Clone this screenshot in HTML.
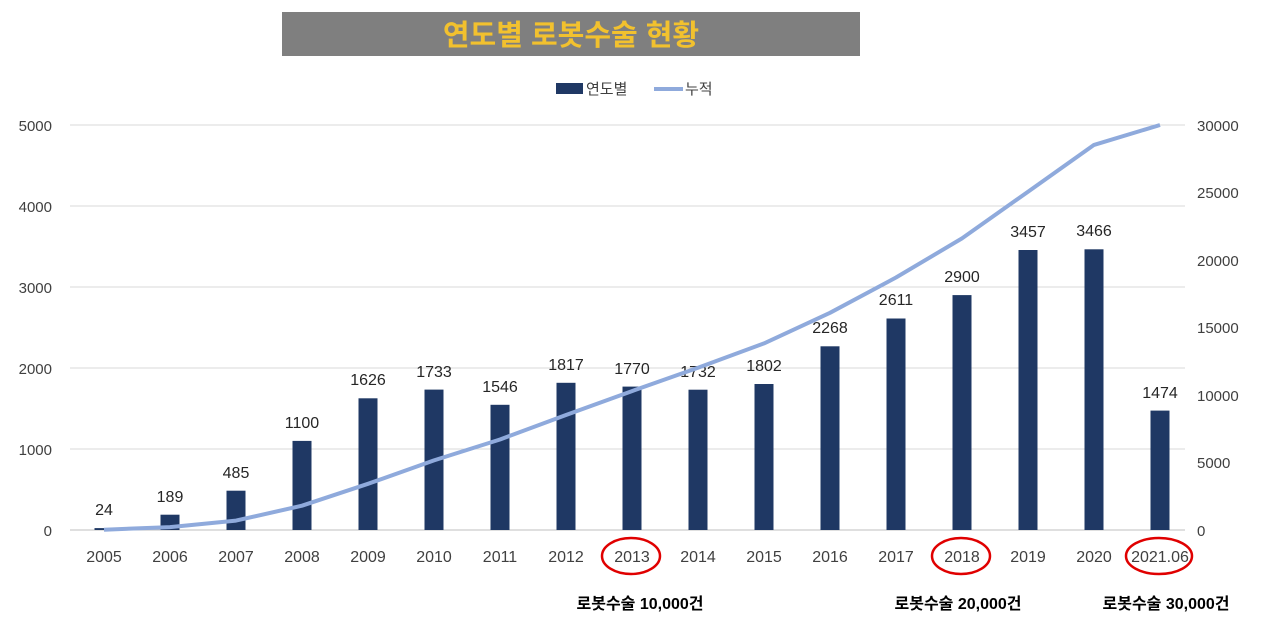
<!DOCTYPE html>
<html><head><meta charset="utf-8"><style>
body{margin:0;background:#fff;}
svg text{font-family:"Liberation Sans","Noto Sans CJK KR",sans-serif;}
</style></head><body>
<svg width="1280" height="625" xmlns="http://www.w3.org/2000/svg">
<rect x="282" y="12" width="578" height="44" fill="#7f7f7f"/>
<text x="571" y="45" text-anchor="middle" font-size="29" font-weight="bold" fill="#f2c12e">연도별 로봇수술 현황</text>
<rect x="556" y="83" width="27" height="11" fill="#1f3864"/>
<text x="586" y="94" font-size="15" fill="#404040">연도별</text>
<line x1="654" y1="89" x2="683" y2="89" stroke="#8faadc" stroke-width="4"/>
<text x="685" y="94" font-size="15" fill="#404040">누적</text>
<g stroke="#d9d9d9" stroke-width="1">
<line x1="70" y1="125" x2="1185" y2="125"/><line x1="70" y1="206" x2="1185" y2="206"/>
<line x1="70" y1="287" x2="1185" y2="287"/><line x1="70" y1="368" x2="1185" y2="368"/>
<line x1="70" y1="449" x2="1185" y2="449"/><line x1="70" y1="530" x2="1185" y2="530" stroke="#bfbfbf"/>
</g>
<g font-size="15" fill="#404040" text-anchor="end">
<text x="52" y="131">5000</text><text x="52" y="212">4000</text><text x="52" y="293">3000</text>
<text x="52" y="374">2000</text><text x="52" y="455">1000</text><text x="52" y="536">0</text>
</g>
<g font-size="15" fill="#404040" text-anchor="start">
<text x="1197" y="131">30000</text><text x="1197" y="198">25000</text><text x="1197" y="266">20000</text>
<text x="1197" y="333">15000</text><text x="1197" y="401">10000</text><text x="1197" y="468">5000</text><text x="1197" y="536">0</text>
</g>
<g fill="#1f3864">
<rect x="94.5" y="528.1" width="19" height="1.9"/>
<rect x="160.5" y="514.7" width="19" height="15.3"/>
<rect x="226.5" y="490.7" width="19" height="39.3"/>
<rect x="292.5" y="440.9" width="19" height="89.1"/>
<rect x="358.5" y="398.3" width="19" height="131.7"/>
<rect x="424.5" y="389.6" width="19" height="140.4"/>
<rect x="490.5" y="404.8" width="19" height="125.2"/>
<rect x="556.5" y="382.8" width="19" height="147.2"/>
<rect x="622.5" y="386.6" width="19" height="143.4"/>
<rect x="688.5" y="389.7" width="19" height="140.3"/>
<rect x="754.5" y="384.0" width="19" height="146.0"/>
<rect x="820.5" y="346.3" width="19" height="183.7"/>
<rect x="886.5" y="318.5" width="19" height="211.5"/>
<rect x="952.5" y="295.1" width="19" height="234.9"/>
<rect x="1018.5" y="250.0" width="19" height="280.0"/>
<rect x="1084.5" y="249.3" width="19" height="280.7"/>
<rect x="1150.5" y="410.6" width="19" height="119.4"/>
</g>
<g font-size="16" fill="#262626" text-anchor="middle">
<text x="104" y="515">24</text>
<text x="170" y="502">189</text>
<text x="236" y="478">485</text>
<text x="302" y="428">1100</text>
<text x="368" y="385">1626</text>
<text x="434" y="377">1733</text>
<text x="500" y="392">1546</text>
<text x="566" y="370">1817</text>
<text x="632" y="374">1770</text>
<text x="698" y="377">1732</text>
<text x="764" y="371">1802</text>
<text x="830" y="333">2268</text>
<text x="896" y="305">2611</text>
<text x="962" y="282">2900</text>
<text x="1028" y="237">3457</text>
<text x="1094" y="236">3466</text>
<text x="1160" y="398">1474</text>
</g>
<g font-size="16" fill="#404040" text-anchor="middle">
<text x="104" y="562">2005</text><text x="170" y="562">2006</text><text x="236" y="562">2007</text>
<text x="302" y="562">2008</text><text x="368" y="562">2009</text><text x="434" y="562">2010</text>
<text x="500" y="562">2011</text><text x="566" y="562">2012</text><text x="632" y="562">2013</text>
<text x="698" y="562">2014</text><text x="764" y="562">2015</text><text x="830" y="562">2016</text>
<text x="896" y="562">2017</text><text x="962" y="562">2018</text><text x="1028" y="562">2019</text>
<text x="1094" y="562">2020</text><text x="1160" y="562">2021.06</text>
</g>
<polyline fill="none" stroke="#8faadc" stroke-width="4" stroke-linejoin="round" points="104,529.7 170,527.1 236,520.6 302,505.7 368,483.8 434,460.4 500,439.5 566,415.0 632,391.1 698,367.7 764,343.4 830,312.8 896,277.5 962,238.4 1028,191.7 1094,144.9 1160,125"/>
<g fill="none" stroke="#e00000" stroke-width="2.5">
<ellipse cx="631" cy="556" rx="29" ry="18"/><ellipse cx="961" cy="556" rx="29" ry="18"/><ellipse cx="1159" cy="556" rx="33" ry="18"/>
</g>
<g font-size="16" font-weight="bold" fill="#000" text-anchor="middle">
<text x="640" y="609">로봇수술 10,000건</text><text x="958" y="609">로봇수술 20,000건</text><text x="1166" y="609">로봇수술 30,000건</text>
</g>
</svg>
</body></html>
